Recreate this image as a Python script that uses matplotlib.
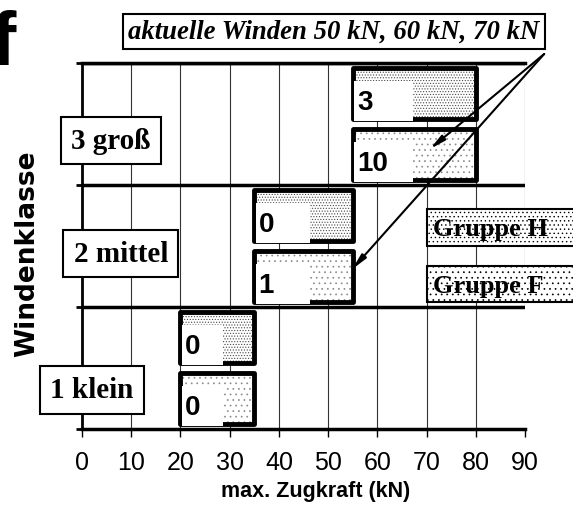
import matplotlib
matplotlib.use('Agg')
import matplotlib.pyplot as plt
from matplotlib.patches import Rectangle
import numpy as np

# Windenklassen (von unten nach oben)
klassen = ['1 klein', '2 mittel', '3 groß']
zug_von = [20, 35, 55]
zug_bis = [35, 55, 80]
anzahl_h = [0, 0, 3]
anzahl_f = [0, 1, 10]
gruppen = ['Gruppe H', 'Gruppe F']
xticks = list(range(0, 91, 10))
hinweis = 'aktuelle Winden 50 kN, 60 kN, 70 kN'

plt.rcParams['hatch.linewidth'] = 0.5

fig = plt.figure(figsize=(5.73, 5.06), dpi=100)
ax = fig.add_axes([82/573, 1-430/506, 443/573, 366/506])
ax.set_xlim(0, 90)
ax.set_ylim(0, 3)

sans = 'Liberation Sans'
serif = 'Liberation Serif'

# gitter
ax.vlines(xticks[1:-1], 0, 3, color='#333333', lw=0.8, zorder=1)
ax.vlines(90, 1, 3, color='#333333', lw=0.8, zorder=1)
ax.hlines([1, 2, 3], 0, 90, color='black', lw=2.5, zorder=2)

y = np.arange(len(klassen))
breite = np.array(zug_bis) - np.array(zug_von)
h = 0.41

# Balken: Füllung und Rahmen getrennt
ax.barh(y + 0.75, breite, left=zug_von, height=h, color='white',
        edgecolor='#4a4a4a', hatch='......', lw=0, zorder=3)
ax.barh(y + 0.25, breite, left=zug_von, height=h, color='white',
        edgecolor='#8a8a8a', hatch='...', lw=0, zorder=3)
for off in (0.75, 0.25):
    ax.barh(y + off, breite, left=zug_von, height=h, fill=False,
            edgecolor='black', lw=3.5, joinstyle='round', zorder=3.5)

# Datenbeschriftungen mit weißem Hintergrund
for i in range(len(klassen)):
    lw_box = min(12, 0.55 * breite[i])
    for off, n in ((0.75, anzahl_h[i]), (0.25, anzahl_f[i])):
        top = y[i] + off + h/2
        bot = y[i] + off - h/2
        ax.add_patch(Rectangle((zug_von[i] + 0.3, bot - 0.02), lw_box, (top - bot) - 0.08,
                               facecolor='white', edgecolor='none', zorder=4))
        ax.text(zug_von[i] + 0.9, (top + bot)/2 - 0.07, str(n), fontsize=20,
                fontweight='bold', family=sans, ha='left', va='center', zorder=5)

# Legende
for (g, y0, y1, ht) in ((gruppen[0], 1.5, 1.803, '....'), (gruppen[1], 1.041, 1.336, '...')):
    ax.add_patch(Rectangle((70.1, y0), 30, y1 - y0, facecolor='white', edgecolor='black',
                           hatch=ht, lw=1.5, clip_on=False, zorder=6))
    ax.text(71.3, (y0 + y1)/2 - 0.01, g, fontsize=19, fontweight='bold', family=serif,
            ha='left', va='center', zorder=7, clip_on=False)

# Klassen-Beschriftung
for txt, xx, yy in zip(klassen, [2.0, 7.9, 5.9], [0.32, 1.44, 2.365]):
    ax.text(xx, yy, txt, fontsize=21, fontweight='bold', family=serif, ha='center',
            va='center', zorder=8, clip_on=False,
            bbox=dict(boxstyle='square,pad=0.35', facecolor='white', edgecolor='black', lw=1.5))

# Hinweis mit Pfeilen
ax.text(51.2, 3.258, hinweis, fontsize=19.3, fontweight='bold', style='italic', family=serif,
        ha='center', va='center', zorder=8, clip_on=False,
        bbox=dict(boxstyle='square,pad=0.2', facecolor='white', edgecolor='black', lw=1.5))
for tx, ty in ((70.7, 2.295), (54.9, 1.31)):
    ax.annotate('', xy=(tx, ty), xytext=(93.9, 3.074), annotation_clip=False, zorder=9,
                arrowprops=dict(arrowstyle='-|>,head_length=0.9,head_width=0.18',
                                color='black', lw=1.5, shrinkA=0, shrinkB=0))

# Achsen
ax.spines['right'].set_visible(False)
ax.spines['top'].set_linewidth(2.5)
ax.spines['left'].set_linewidth(2)
ax.spines['bottom'].set_linewidth(2.5)
ax.set_xticks(xticks)
ax.set_xticklabels([str(t) for t in xticks], fontsize=18, family=sans)
ax.set_yticks([0, 1, 2, 3])
ax.set_yticklabels([])
ax.tick_params(axis='x', length=6, width=1, pad=9)
ax.tick_params(axis='y', length=4, width=2)
ax.set_xlabel('max. Zugkraft (kN)', fontsize=15.5, fontweight='bold', family=sans)
ax.xaxis.set_label_coords(0.528, -0.14)
ax.set_ylabel('Windenklasse', fontsize=19, fontweight='bold', family='DejaVu Sans')
ax.yaxis.set_label_coords(-0.095, 0.482)

fig.text(-9/573, 1 - 65/506, 'f', fontsize=55, fontweight='bold', family=sans, va='baseline')

fig.savefig('out.png', dpi=100)
